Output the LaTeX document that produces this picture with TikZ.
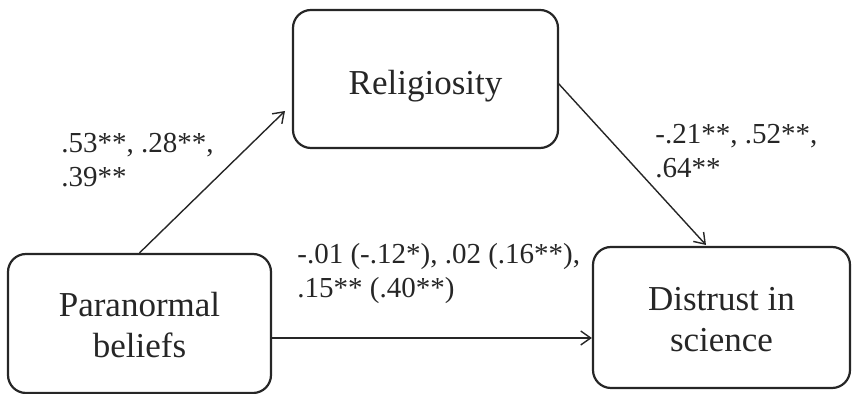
\documentclass[tikz,border=0pt]{standalone}
\usepackage{fontspec}
\setmainfont{Liberation Serif}
\usetikzlibrary{arrows.meta,calc}
\begin{document}
\begin{tikzpicture}[x=0.5pt,y=-0.5pt,
  box/.style={draw=black!85,line width=1.1pt,rounded corners=9pt,align=center,
    font=\fontsize{17.5pt}{20.5pt}\selectfont,text=black!85,inner sep=0pt,text depth=0pt},
  arr/.style={draw=black!85,line width=0.7pt,-{Straight Barb[length=5pt,width=7pt,line width=0.7pt]}},
  lab/.style={align=left,anchor=base west,inner sep=0pt,text=black!85,
    font=\fontsize{14.5pt}{17pt}\selectfont}]
\useasboundingbox (0,0) rectangle (852,394);
\node[box,minimum width=132.5pt,minimum height=69pt,text height=16pt] (R) at (425.5,79) {Religiosity};
\node[box,minimum width=131.5pt,minimum height=69.5pt,text height=34.5pt] (P) at (139.5,323.5) {Paranormal\\beliefs};
\node[box,minimum width=128.5pt,minimum height=70.5pt,text height=34.5pt] (D) at (721.5,317.5) {Distrust in\\science};
\coordinate (a1) at (285,111);
\coordinate (a2s) at (558,83);
\coordinate (a2) at (706,245);
\coordinate (h) at (0,338);
\draw[arr] (P.north) -- (a1);
\draw[arr] (a2s) -- (a2);
\draw[arr] (P.east |- h) -- (D.west |- h);
\node[lab] (L1) at (61,187) {.53**, .28**,\\.39**};
\node[lab] (L2) at (655,178) {-.21**, .52**,\\.64**};
\node[lab] (L3) at (297,298) {-.01 (-.12*), .02 (.16**),\\.15** (.40**)};
\end{tikzpicture}
\end{document}
